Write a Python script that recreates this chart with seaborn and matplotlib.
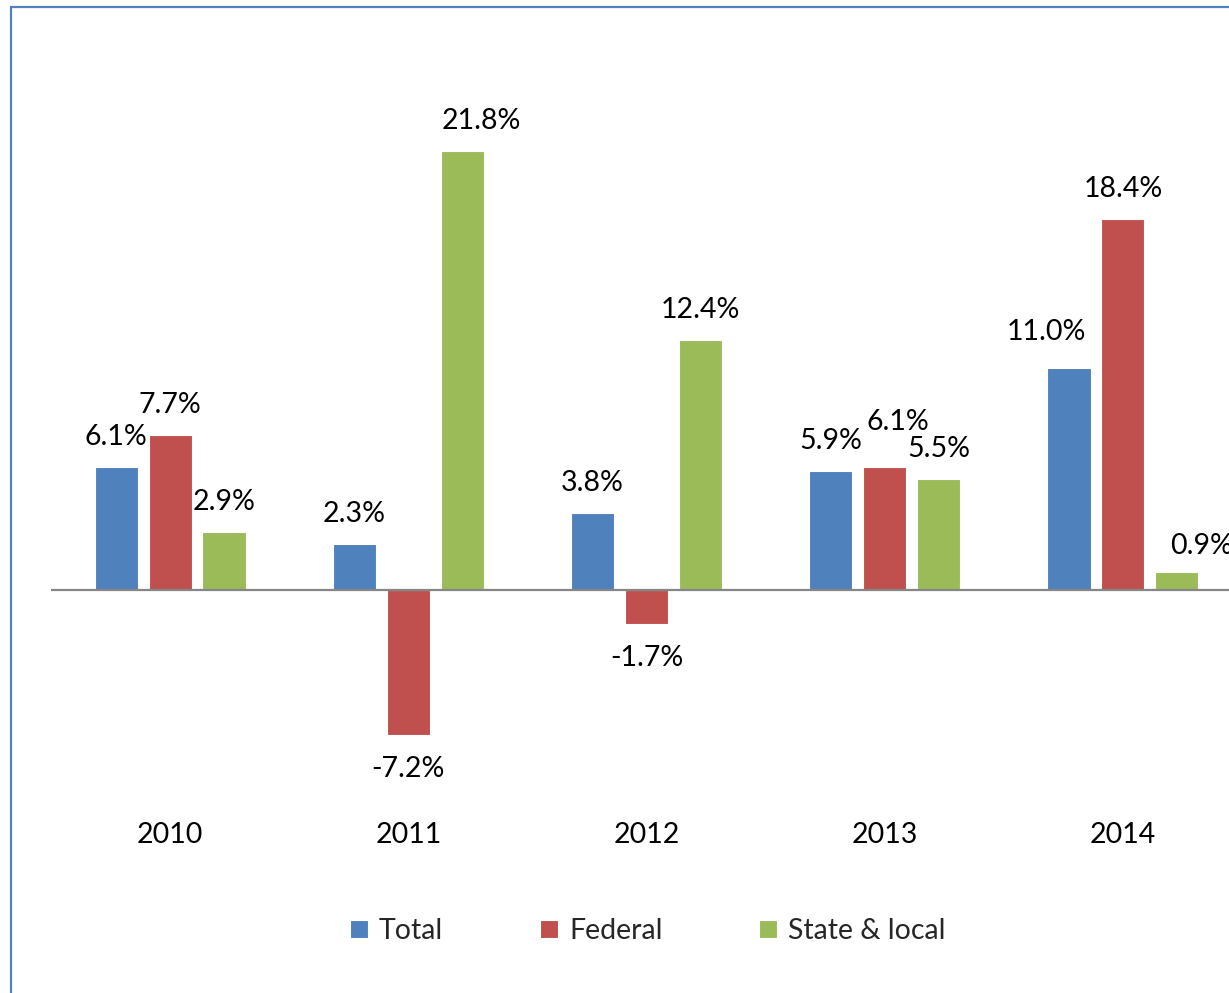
import matplotlib
matplotlib.use("Agg")
import matplotlib.pyplot as plt
from matplotlib.patches import Rectangle
import seaborn as sns
import pandas as pd

years = ["2010", "2011", "2012", "2013", "2014"]
series = ["Total", "Federal", "State & local"]
total = [6.1, 2.3, 3.8, 5.9, 11.0]
federal = [7.7, -7.2, -1.7, 6.1, 18.4]
state_local = [2.9, 21.8, 12.4, 5.5, 0.9]

colors = ["#4F81BD", "#C0504D", "#9BBB59"]

W, H = 1229, 993
ZERO_PX, PX_PER_PCT = 590, 20.14
AX_LEFT, AX_RIGHT, AX_TOP, AX_BOTTOM = 51, 1242, 100, 811

# hand nudges of single labels (pixels), as in the original
label_nudge = {
    ("2011", "State & local"): (19, 0),
    ("2013", "Federal"): (13, 15),
    ("2014", "Total"): (-23, 6),
    ("2014", "State & local"): (25, -4),
}


def main():
    df = pd.DataFrame({
        "year": years * 3,
        "series": [s for s in series for _ in years],
        "value": total + federal + state_local,
    })

    sns.set_style("white")
    plt.rcParams["font.family"] = ["Lato", "DejaVu Sans"]

    fig = plt.figure(figsize=(W / 100, H / 100), dpi=100)
    ax = fig.add_axes([AX_LEFT / W, 1 - AX_BOTTOM / H,
                       (AX_RIGHT - AX_LEFT) / W, (AX_BOTTOM - AX_TOP) / H])

    sns.barplot(data=df, x="year", y="value", hue="series", order=years,
                hue_order=series, palette=colors, saturation=1, width=0.68,
                gap=0.2, edgecolor="white", linewidth=0.8, ax=ax)

    ax.set_xlim(-0.5, 4.5)
    ax.set_ylim(-(AX_BOTTOM - ZERO_PX) / PX_PER_PCT, (ZERO_PX - AX_TOP) / PX_PER_PCT)
    ax.axhline(0, color="#868686", linewidth=1.6, zorder=1)

    for s in ax.spines.values():
        s.set_visible(False)
    ax.set_yticks([])
    ax.set_xlabel("")
    ax.set_ylabel("")
    ax.tick_params(axis="x", length=0, pad=8, labelsize=20.5, colors="black")

    for name, cont in zip(series, ax.containers):
        for yr, bar in zip(years, cont):
            v = bar.get_height()
            dx, dy = label_nudge.get((yr, name), (0, 0))
            off = 30 + dy if v >= 0 else -34
            ax.annotate(f"{v:.1f}%", (bar.get_x() + bar.get_width() / 2, v),
                        xytext=(dx * 0.72, off * 0.72), textcoords="offset points",
                        ha="center", va="center", fontsize=20.5, color="black",
                        annotation_clip=False)

    handles, labels = ax.get_legend_handles_labels()
    ax.legend_.remove()
    fig.legend(handles, labels, loc="center", bbox_to_anchor=(648 / W, 1 - 931 / H),
               ncol=3, frameon=False, fontsize=20.5, handlelength=0.62,
               handleheight=0.62, handletextpad=0.4, columnspacing=3.4)

    # chart border, runs off the right and bottom edges
    fig.add_artist(Rectangle((11 / W, -0.1), 1.2, 1.1 - 7 / H,
                             transform=fig.transFigure, fill=False,
                             edgecolor="#4F81BD", linewidth=1.6))

    fig.savefig("out.png", dpi=100)
    plt.close(fig)


if __name__ == "__main__":
    main()
